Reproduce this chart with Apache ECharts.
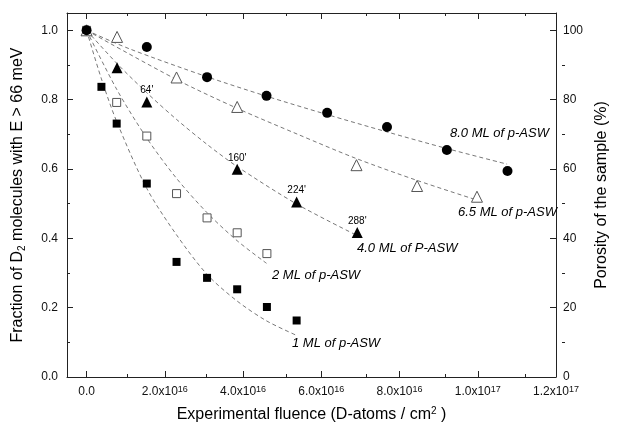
<!DOCTYPE html>
<html>
<head>
<meta charset="utf-8">
<script src="https://cdn.jsdelivr.net/npm/echarts@6/dist/echarts.min.js"></script>
<style>
  html, body { margin: 0; padding: 0; background: #fff; }
  #chart { width: 618px; height: 429px; }
</style>
</head>
<body>
<div id="chart"></div>
<script>
// fluence in units of 1e16 D-atoms/cm2
// 8.0 ML (filled circles)
var ml8X = [0, 1.54, 3.08, 4.60, 6.15, 7.68, 9.21, 10.76];
var ml8Y = [1.0, 0.952, 0.865, 0.811, 0.762, 0.721, 0.655, 0.594];
// 6.5 ML (open triangles)
var ml65X = [0, 0.78, 2.30, 3.85, 6.90, 8.45, 9.98];
var ml65Y = [1.0, 0.981, 0.864, 0.779, 0.611, 0.551, 0.520];
// 4.0 ML (filled triangles) + time notes
var ml4X = [0, 0.78, 1.54, 3.85, 5.37, 6.92];
var ml4Y = [1.0, 0.892, 0.793, 0.599, 0.505, 0.417];
var ml4Notes = ['', '', "64'", "160'", "224'", "288'"];
// 2 ML (open squares)
var ml2X = [0, 0.77, 1.54, 2.30, 3.08, 3.85, 4.61];
var ml2Y = [1.0, 0.792, 0.695, 0.529, 0.459, 0.416, 0.356];
// 1 ML (filled squares)
var ml1X = [0, 0.38, 0.77, 1.54, 2.30, 3.08, 3.85, 4.61, 5.37];
var ml1Y = [1.0, 0.837, 0.731, 0.558, 0.332, 0.286, 0.253, 0.202, 0.163];

// dashed fit curves
var fit8X = [0, 1.09, 3.08, 4.60, 6.15, 7.68, 9.21, 10.75];
var fit8Y = [1.0, 0.947, 0.866, 0.810, 0.757, 0.707, 0.659, 0.614];
var fit65X = [0, 2.30, 3.85, 5.40, 6.90, 8.45, 9.99];
var fit65Y = [1.0, 0.858, 0.775, 0.700, 0.630, 0.567, 0.510];
var fit4X = [0, 0.78, 1.54, 2.30, 3.08, 3.85, 5.37, 6.90];
var fit4Y = [1.0, 0.904, 0.820, 0.743, 0.671, 0.607, 0.499, 0.409];
var fit2X = [0, 0.77, 1.54, 2.30, 3.08, 3.85, 4.60];
var fit2Y = [1.0, 0.830, 0.689, 0.573, 0.474, 0.393, 0.328];
var fit1X = [0, 0.38, 0.77, 1.54, 2.30, 3.08, 3.85, 4.60, 5.35];
var fit1Y = [1.0, 0.860, 0.737, 0.544, 0.410, 0.296, 0.219, 0.162, 0.121];

// ticks
var xMajor = [0, 2, 4, 6, 8, 10, 12];
var xMinor = [1, 3, 5, 7, 9, 11];
var xMant = ['0.0', '2.0', '4.0', '6.0', '8.0', '1.0', '1.2'];
var xExp = ['', '16', '16', '16', '16', '17', '17'];
var yMajor = [0, 0.2, 0.4, 0.6, 0.8, 1.0];
var yMinor = [0.1, 0.3, 0.5, 0.7, 0.9];
var pMajor = [0, 20, 40, 60, 80, 100];
var pMinor = [10, 30, 50, 70, 90];

var FONT = '"Liberation Sans", Arial, sans-serif';

function zip(xs, ys) {
    var out = [];
    for (var i = 0; i < xs.length; i++) {
        out.push([xs[i], ys[i]]);
    }
    return out;
}

function fitLine(xs, ys) {
    return {
        type: 'line',
        data: zip(xs, ys),
        showSymbol: false,
        smooth: 0.3,
        silent: true,
        z: 1,
        lineStyle: { color: '#555', width: 0.8, type: [4, 3] }
    };
}

function marker(xs, ys, symbol, size, open) {
    return {
        type: 'scatter',
        data: zip(xs, ys),
        symbol: symbol,
        symbolSize: size,
        z: 3,
        itemStyle: open
            ? { color: '#fff', borderColor: '#555', borderWidth: 1, opacity: 1 }
            : { color: '#000', opacity: 1 }
    };
}

// axis helpers: every side is drawn at the grid edge, not on zero
function frameX(grid, pos, ticks, len, line) {
    return {
        type: 'value', gridIndex: grid, position: pos, min: -0.5, max: 12,
        splitLine: { show: false },
        axisLine: { show: line, onZero: false, lineStyle: { color: '#222', width: 1 } },
        axisTick: { show: true, inside: true, length: len, customValues: ticks, lineStyle: { color: '#222' } },
        axisLabel: { show: false }
    };
}
function frameY(grid, pos, max, ticks, len, line) {
    return {
        type: 'value', gridIndex: grid, position: pos, min: 0, max: max,
        splitLine: { show: false },
        axisLine: { show: line, onZero: false, lineStyle: { color: '#222', width: 1 } },
        axisTick: { show: true, inside: true, length: len, customValues: ticks, lineStyle: { color: '#222' } },
        axisLabel: { show: false }
    };
}

var gridBox = { left: 67, top: 13, right: 53, bottom: 52 };
var tickFont = { fontFamily: FONT, fontSize: 12, color: '#111', lineHeight: 14 };

var xBottom = frameX(0, 'bottom', xMajor, 6, true);
xBottom.axisLabel = {
    show: true,
    customValues: xMajor,
    margin: 8,
    formatter: function (v) {
        var i = xMajor.indexOf(v);
        if (i < 0) return '';
        if (!xExp[i]) return '{m|' + xMant[i] + '}';
        return '{m|' + xMant[i] + 'x10}{s|' + xExp[i] + '}';
    },
    rich: {
        m: tickFont,
        s: { fontFamily: FONT, fontSize: 9, color: '#111', verticalAlign: 'top', lineHeight: 2 }
    }
};
xBottom.name = '{t|Experimental fluence (D-atoms / cm}{s|2}{t| )}';
xBottom.nameLocation = 'middle';
xBottom.nameGap = 29;
xBottom.nameTextStyle = {
    rich: {
        t: { fontFamily: FONT, fontSize: 16, color: '#000', lineHeight: 18 },
        s: { fontFamily: FONT, fontSize: 10, color: '#000', verticalAlign: 'top', lineHeight: 4 }
    }
};

var yLeft = frameY(0, 'left', 1.05, yMajor, 6, true);
yLeft.axisLabel = {
    show: true,
    customValues: yMajor,
    margin: 9,
    fontFamily: FONT, fontSize: 12, color: '#111',
    formatter: function (v) { return v.toFixed(1); }
};
yLeft.name = '{t|Fraction of D}{s|2}{t| molecules with E > 66 meV}';
yLeft.nameLocation = 'middle';
yLeft.nameRotate = 90;
yLeft.nameGap = 40;
yLeft.nameTextStyle = {
    rich: {
        t: { fontFamily: FONT, fontSize: 16, color: '#000', lineHeight: 18 },
        s: { fontFamily: FONT, fontSize: 10, color: '#000', verticalAlign: 'bottom', lineHeight: 2 }
    }
};

var yRight = frameY(0, 'right', 105, pMajor, 6, true);
yRight.axisLabel = {
    show: true,
    customValues: pMajor,
    margin: 7,
    fontFamily: FONT, fontSize: 12, color: '#111'
};
yRight.name = 'Porosity of the sample (%)';
yRight.nameLocation = 'middle';
yRight.nameRotate = 90;
yRight.nameGap = 38;
yRight.nameTextStyle = { fontFamily: FONT, fontSize: 16, color: '#000' };

var filledTri = marker(ml4X, ml4Y, 'triangle', 11, false);
filledTri.label = {
    show: true,
    position: 'top',
    distance: 1,
    fontFamily: FONT,
    fontSize: 10,
    color: '#000',
    formatter: function (p) { return ml4Notes[p.dataIndex]; }
};

function tag(x, y, text) {
    return {
        type: 'text', x: x, y: y, z: 10,
        style: { text: text, font: 'italic 13px ' + FONT, fill: '#000', verticalAlign: 'middle' }
    };
}

var option = {
    backgroundColor: '#fff',
    animation: false,
    grid: [
        Object.assign({}, gridBox),
        Object.assign({}, gridBox)
    ],
    xAxis: [
        xBottom,
        frameX(0, 'top', xMajor, 6, true),
        frameX(1, 'bottom', xMinor, 3, false),
        frameX(1, 'top', xMinor, 3, false)
    ],
    yAxis: [
        yLeft,
        yRight,
        frameY(1, 'left', 1.05, yMinor, 3, false),
        frameY(1, 'right', 105, pMinor, 3, false)
    ],
    series: [
        fitLine(fit1X, fit1Y),
        fitLine(fit2X, fit2Y),
        fitLine(fit4X, fit4Y),
        fitLine(fit65X, fit65Y),
        fitLine(fit8X, fit8Y),
        marker(ml1X, ml1Y, 'rect', 8, false),
        marker(ml2X, ml2Y, 'rect', 8, true),
        filledTri,
        marker(ml65X, ml65Y, 'triangle', 11, true),
        marker(ml8X, ml8Y, 'circle', 10, false)
    ],
    graphic: [
        tag(450, 133, '8.0 ML of p-ASW'),
        tag(458, 212, '6.5 ML of p-ASW'),
        tag(357, 248, '4.0 ML of P-ASW'),
        tag(272, 275, '2 ML of p-ASW'),
        tag(292, 343, '1 ML of p-ASW')
    ]
};

var myChart = echarts.init(document.getElementById('chart'));
myChart.setOption(option);
</script>
</body>
</html>
